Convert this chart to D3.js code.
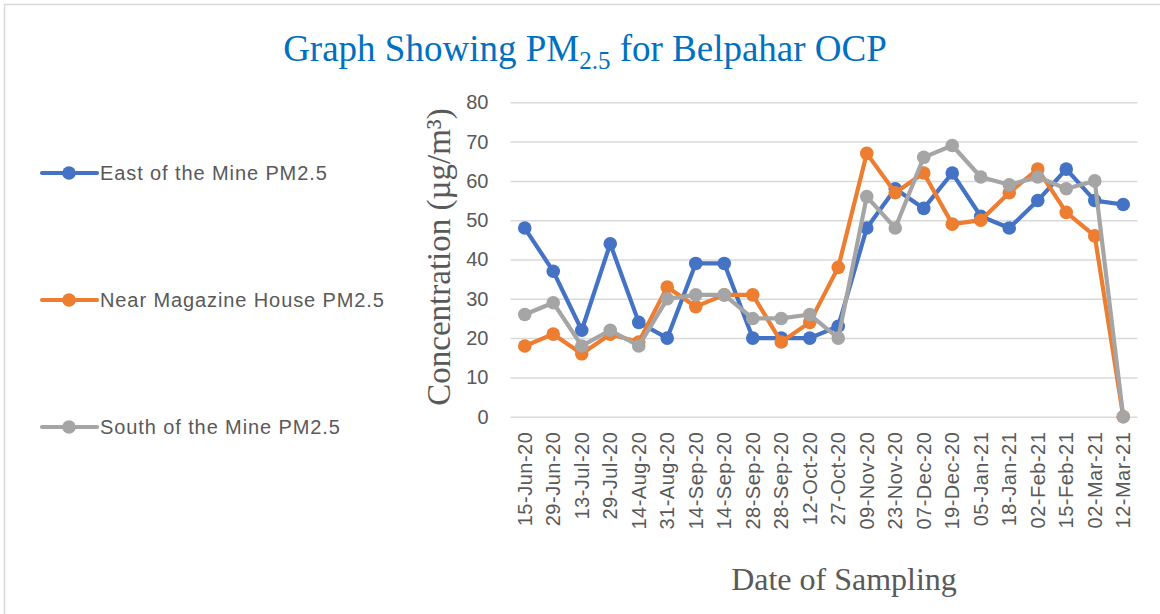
<!DOCTYPE html>
<html>
<head>
<meta charset="utf-8">
<script src="https://cdn.jsdelivr.net/npm/d3@7"></script>
<style>
  html, body { margin: 0; padding: 0; background: #fff; }
  svg { display: block; }
</style>
</head>
<body>
<svg id="chart" width="1160" height="614"></svg>
<script>
const categories = ["15-Jun-20","29-Jun-20","13-Jul-20","29-Jul-20","14-Aug-20","31-Aug-20","14-Sep-20","14-Sep-20","28-Sep-20","28-Sep-20","12-Oct-20","27-Oct-20","09-Nov-20","23-Nov-20","07-Dec-20","19-Dec-20","05-Jan-21","18-Jan-21","02-Feb-21","15-Feb-21","02-Mar-21","12-Mar-21"];
const eastMine = [48,37,22,44,24,20,39,39,20,20,20,23,48,58,53,62,51,48,55,63,55,54];
const magazineHouse = [18,21,16,21,19,33,28,31,31,19,24,38,67,57,62,49,50,57,63,52,46,0];
const southMine = [26,29,18,22,18,30,31,31,25,25,26,20,56,48,66,69,61,59,61,58,60,0];
const seriesNames = ["East of the Mine PM2.5","Near Magazine House PM2.5","South of the Mine PM2.5"];
const seriesColors = ["#4472c4","#ed7d31","#a5a5a5"];
const yTicks = [0,10,20,30,40,50,60,70,80];

const series = [eastMine, magazineHouse, southMine].map((v, i) => ({name: seriesNames[i], color: seriesColors[i], values: v}));

const svg = d3.select("#chart");
const sans = "'Liberation Sans', Arial, sans-serif";
const serif = "'Liberation Serif', 'Times New Roman', serif";
const textGray = "#595959";

// chart frame
svg.append("rect").attr("x", 4.5).attr("y", 4.5).attr("width", 1300).attr("height", 800)
  .attr("fill", "none").attr("stroke", "#d9d9d9").attr("stroke-width", 1.5);

const plot = {left: 510.5, right: 1137.5, top: 102.3, bottom: 416.7};

const x = d3.scaleBand().domain(d3.range(categories.length)).range([plot.left, plot.right]);
const y = d3.scaleLinear().domain([0, 80]).range([plot.bottom, plot.top]);
const cx = i => x(i) + x.bandwidth() / 2;

// gridlines
const gridAxis = d3.axisLeft(y).tickValues(yTicks).tickSize(-(plot.right - plot.left)).tickFormat("");
const gridG = svg.append("g").attr("transform", `translate(${plot.left},0)`).call(gridAxis);
gridG.select(".domain").remove();
gridG.selectAll(".tick line").attr("stroke", "#d9d9d9").attr("stroke-width", 1.5);

// y tick labels
const yAxis = d3.axisLeft(y).tickValues(yTicks).tickSize(0).tickPadding(22);
const yG = svg.append("g").attr("transform", `translate(${plot.left},0)`).call(yAxis);
yG.select(".domain").remove();
yG.selectAll(".tick text").attr("font-family", sans).attr("font-size", 20).attr("fill", textGray);

// x tick labels
const xAxis = d3.axisBottom(x).tickSize(0).tickFormat(i => categories[i]);
const xG = svg.append("g").attr("transform", `translate(0,${plot.bottom})`).call(xAxis);
xG.select(".domain").remove();
xG.selectAll(".tick text")
  .attr("font-family", sans).attr("font-size", 20).attr("fill", textGray)
  .attr("letter-spacing", 0.5)
  .attr("text-anchor", "end")
  .attr("transform", "rotate(-90)")
  .attr("x", -15).attr("y", 0).attr("dy", "0.36em");

// series
const line = d3.line().x((d, i) => cx(i)).y(d => y(d));
series.forEach(s => {
  const g = svg.append("g");
  g.append("path").datum(s.values).attr("d", line)
    .attr("fill", "none").attr("stroke", s.color).attr("stroke-width", 4.2)
    .attr("stroke-linejoin", "round").attr("stroke-linecap", "round");
  g.selectAll("circle").data(s.values).join("circle")
    .attr("cx", (d, i) => cx(i)).attr("cy", d => y(d)).attr("r", 6.8)
    .attr("fill", s.color);
});

// title
const title = svg.append("text").attr("x", 585).attr("y", 61).attr("text-anchor", "middle")
  .attr("font-family", serif).attr("font-size", 37).attr("fill", "#0070c0");
title.append("tspan").text("Graph Showing PM");
title.append("tspan").attr("font-size", 25).attr("dy", 8).text("2.5");
title.append("tspan").attr("dy", -8).text(" for Belpahar OCP");

// y axis title
svg.append("text").attr("transform", "translate(450,257) rotate(-90)").attr("text-anchor", "middle")
  .attr("font-family", serif).attr("font-size", 33).attr("fill", textGray)
  .text("Concentration (µg/m³)");

// x axis title
svg.append("text").attr("x", 844).attr("y", 590).attr("text-anchor", "middle")
  .attr("font-family", serif).attr("font-size", 32).attr("fill", textGray)
  .text("Date of Sampling");

// legend
const legendY = [173, 300, 427];
series.forEach((s, i) => {
  const g = svg.append("g").attr("transform", `translate(0,${legendY[i]})`);
  g.append("line").attr("x1", 42).attr("x2", 97).attr("y1", 0).attr("y2", 0)
    .attr("stroke", s.color).attr("stroke-width", 4.2).attr("stroke-linecap", "round");
  g.append("circle").attr("cx", 69).attr("cy", 0).attr("r", 6.8).attr("fill", s.color);
  g.append("text").attr("x", 100).attr("y", 0).attr("dy", "0.36em")
    .attr("font-family", sans).attr("font-size", 20).attr("letter-spacing", 0.9)
    .attr("fill", textGray).text(s.name);
});
</script>
</body>
</html>
